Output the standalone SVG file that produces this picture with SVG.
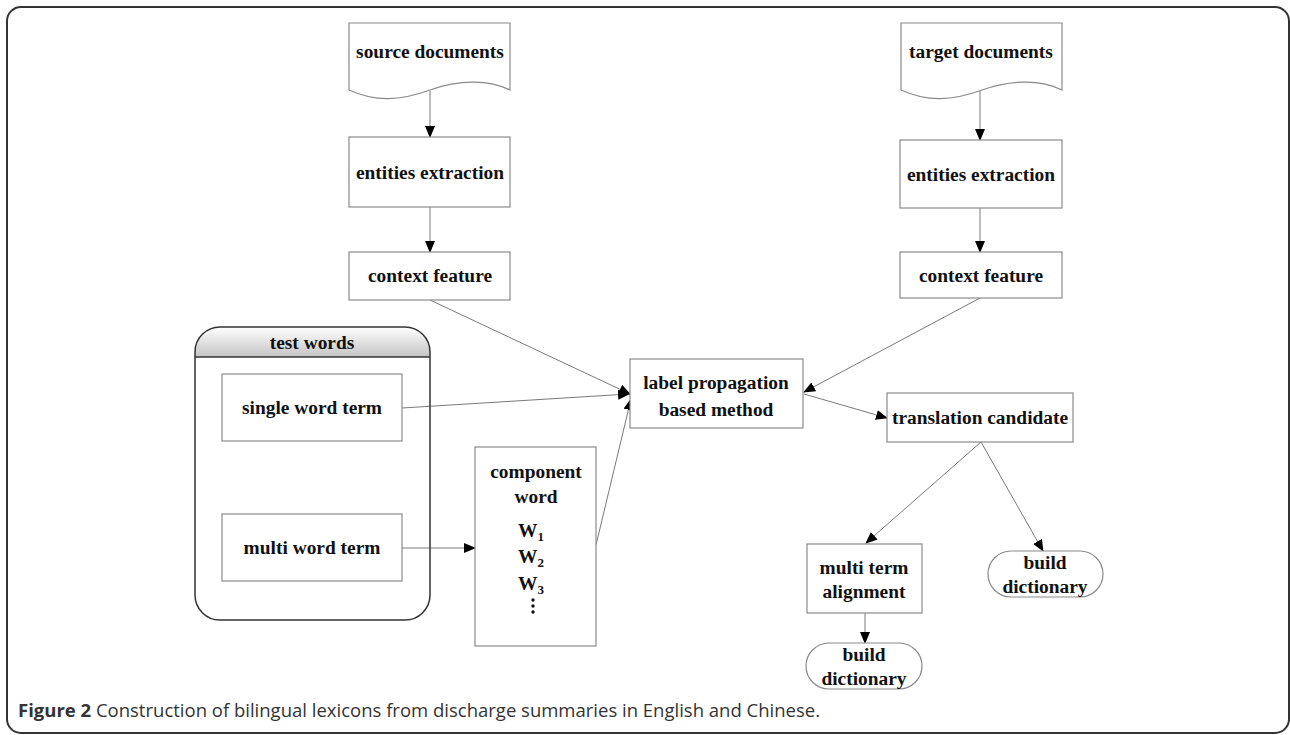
<svg xmlns="http://www.w3.org/2000/svg" width="1290" height="735" viewBox="0 0 1290 735">
<defs>
<style>
.box{fill:#fff;stroke:#8a8a8a;stroke-width:1.2}
.t{font-family:"Liberation Serif","Times New Roman",serif;font-weight:bold;font-size:19.4px;fill:#111;text-anchor:middle}
.c{fill:none;stroke:#7a7a7a;stroke-width:1}
.cap{font-family:"Open Sans","Noto Sans",sans-serif;font-size:18.5px;fill:#333}
</style>
<marker id="ah" markerWidth="12" markerHeight="10" refX="11" refY="5" orient="auto" markerUnits="userSpaceOnUse">
<path d="M0,0 L12,5 L0,10 Z" fill="#000"/>
</marker>
<linearGradient id="hg" x1="0" y1="0" x2="0" y2="1">
<stop offset="0" stop-color="#ffffff"/>
<stop offset="1" stop-color="#c4c4c4"/>
</linearGradient>
</defs>
<rect x="7" y="7" width="1282" height="726" rx="14" fill="none" stroke="#333" stroke-width="2"/>

<g id="connectors">
<line class="c" x1="430" y1="91" x2="430" y2="137" marker-end="url(#ah)"/>
<line class="c" x1="430" y1="207" x2="430" y2="252" marker-end="url(#ah)"/>
<line class="c" x1="980" y1="91" x2="980" y2="140" marker-end="url(#ah)"/>
<line class="c" x1="980" y1="208" x2="980" y2="252" marker-end="url(#ah)"/>
<line class="c" x1="430" y1="300" x2="630" y2="394" marker-end="url(#ah)"/>
<line class="c" x1="980" y1="298" x2="804" y2="392" marker-end="url(#ah)"/>
<line class="c" x1="402" y1="408" x2="629" y2="394" marker-end="url(#ah)"/>
<line class="c" x1="596" y1="545" x2="631" y2="399" marker-end="url(#ah)"/>
<line class="c" x1="402" y1="548" x2="475" y2="548" marker-end="url(#ah)"/>
<line class="c" x1="804" y1="394" x2="887" y2="418" marker-end="url(#ah)"/>
<line class="c" x1="981" y1="442" x2="866" y2="543" marker-end="url(#ah)"/>
<line class="c" x1="981" y1="442" x2="1043" y2="551" marker-end="url(#ah)"/>
<line class="c" x1="865" y1="613" x2="865" y2="643" marker-end="url(#ah)"/>
</g>

<g id="source-documents">
<path class="box" d="M349,23 H510 V90 C490,80 460,79 430,90 C400,101 375,102 349,90 Z"/>
<text class="t" x="430" y="58">source documents</text>
</g>
<g id="entities-extraction-left">
<rect class="box" x="349" y="137" width="161" height="70"/>
<text class="t" x="430" y="179">entities extraction</text>
</g>
<g id="context-feature-left">
<rect class="box" x="349" y="252" width="161" height="48"/>
<text class="t" x="430" y="282">context feature</text>
</g>

<g id="target-documents">
<path class="box" d="M901,23 H1062 V90 C1042,80 1012,79 982,90 C952,101 927,102 901,90 Z"/>
<text class="t" x="981" y="58">target documents</text>
</g>
<g id="entities-extraction-right">
<rect class="box" x="900" y="140" width="162" height="68"/>
<text class="t" x="981" y="181">entities extraction</text>
</g>
<g id="context-feature-right">
<rect class="box" x="900" y="252" width="162" height="46"/>
<text class="t" x="981" y="282">context feature</text>
</g>

<g id="test-words">
<path d="M220,327 H405 A25,25 0 0 1 430,352 V357 H195 V352 A25,25 0 0 1 220,327 Z" fill="url(#hg)"/>
<path d="M220,327 H405 A25,25 0 0 1 430,352 V595 A25,25 0 0 1 405,620 H220 A25,25 0 0 1 195,595 V352 A25,25 0 0 1 220,327 Z" fill="none" stroke="#333" stroke-width="1.5"/>
<line x1="195" y1="357" x2="430" y2="357" stroke="#333" stroke-width="1.5"/>
<text class="t" x="312" y="349">test words</text>
</g>
<g id="single-word-term">
<rect class="box" x="222" y="374" width="180" height="67"/>
<text class="t" x="312" y="414">single word term</text>
</g>
<g id="multi-word-term">
<rect class="box" x="222" y="514" width="180" height="67"/>
<text class="t" x="312" y="554">multi word term</text>
</g>

<g id="component-word">
<rect class="box" x="475" y="447" width="121" height="199"/>
<text class="t" x="536" y="478">component</text>
<text class="t" x="536" y="503">word</text>
<text class="t" x="531" y="537">W<tspan font-size="13" dy="4">1</tspan></text>
<text class="t" x="531" y="563">W<tspan font-size="13" dy="4">2</tspan></text>
<text class="t" x="531" y="590">W<tspan font-size="13" dy="4">3</tspan></text>
<circle cx="533" cy="600" r="1.7" fill="#111"/>
<circle cx="533" cy="606" r="1.7" fill="#111"/>
<circle cx="533" cy="612" r="1.7" fill="#111"/>
</g>

<g id="label-propagation">
<rect class="box" x="630" y="359" width="173" height="69"/>
<text class="t" x="716" y="389">label propagation</text>
<text class="t" x="716" y="416">based method</text>
</g>

<g id="translation-candidate">
<rect class="box" x="887" y="393" width="186" height="49"/>
<text class="t" x="980" y="424">translation candidate</text>
</g>

<g id="multi-term-alignment">
<rect class="box" x="807" y="544" width="115" height="69"/>
<text class="t" x="864" y="574">multi term</text>
<text class="t" x="864" y="598">alignment</text>
</g>

<g id="build-dictionary-1">
<rect class="box" x="806" y="643" width="116" height="46" rx="23"/>
<text class="t" x="864" y="661">build</text>
<text class="t" x="864" y="685">dictionary</text>
</g>

<g id="build-dictionary-2">
<rect class="box" x="988" y="551" width="115" height="46" rx="23"/>
<text class="t" x="1045" y="569">build</text>
<text class="t" x="1045" y="593">dictionary</text>
</g>

<text class="cap" x="18" y="717"><tspan font-weight="bold">Figure 2</tspan> Construction of bilingual lexicons from discharge summaries in English and Chinese.</text>
</svg>
